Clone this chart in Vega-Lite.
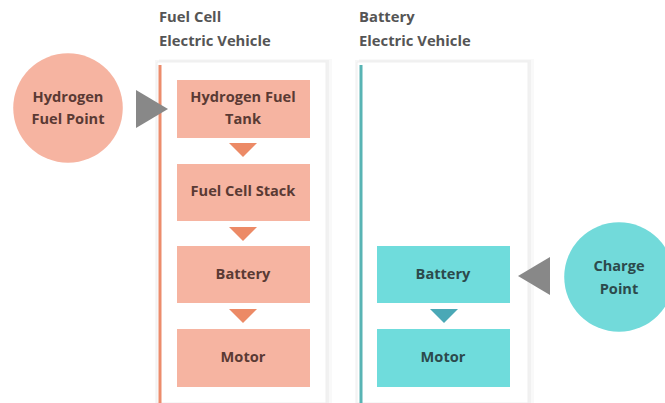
{
  "$schema": "https://vega.github.io/schema/vega-lite/v6.json",
  "width": 665,
  "height": 403,
  "padding": 0,
  "autosize": {"type": "none"},
  "background": "#ffffff",
  "config": {"view": {"stroke": null}, "font": "Open Sans"},
  "datasets": {
    "panels": [
      {"x0": 157, "x1": 326, "y0": 62, "y1": 403},
      {"x0": 357, "x1": 528, "y0": 62, "y1": 403}
    ],
    "lines": [
      {"x": 160, "y0": 65, "y1": 403, "g": "fc"},
      {"x": 361, "y0": 65, "y1": 403, "g": "bev"}
    ],
    "boxes": [
      {"x0": 177, "x1": 310, "y0": 80, "y1": 138, "g": "fc"},
      {"x0": 177, "x1": 310, "y0": 164, "y1": 221, "g": "fc"},
      {"x0": 177, "x1": 310, "y0": 246, "y1": 303, "g": "fc"},
      {"x0": 177, "x1": 310, "y0": 329, "y1": 387, "g": "fc"},
      {"x0": 377, "x1": 510, "y0": 246, "y1": 303, "g": "bev"},
      {"x0": 377, "x1": 510, "y0": 329, "y1": 387, "g": "bev"}
    ],
    "downs": [
      {"x": 243, "y": 150, "g": "fc"},
      {"x": 243, "y": 234, "g": "fc"},
      {"x": 243, "y": 316, "g": "fc"},
      {"x": 444, "y": 316, "g": "bev"}
    ],
    "circles": [
      {"x": 68, "y": 108, "g": "fc"},
      {"x": 619, "y": 277, "g": "bev"}
    ],
    "texts": [
      {"x": 159, "y": 18, "t": "Fuel Cell", "g": "title", "a": "left"},
      {"x": 159, "y": 42, "t": "Electric Vehicle", "g": "title", "a": "left"},
      {"x": 359, "y": 18, "t": "Battery", "g": "title", "a": "left"},
      {"x": 359, "y": 42, "t": "Electric Vehicle", "g": "title", "a": "left"},
      {"x": 68, "y": 98, "t": "Hydrogen", "g": "fc", "a": "center"},
      {"x": 68, "y": 120, "t": "Fuel Point", "g": "fc", "a": "center"},
      {"x": 243, "y": 98, "t": "Hydrogen Fuel", "g": "fc", "a": "center"},
      {"x": 243, "y": 120, "t": "Tank", "g": "fc", "a": "center"},
      {"x": 243, "y": 192, "t": "Fuel Cell Stack", "g": "fc", "a": "center"},
      {"x": 243, "y": 275, "t": "Battery", "g": "fc", "a": "center"},
      {"x": 243, "y": 358, "t": "Motor", "g": "fc", "a": "center"},
      {"x": 443, "y": 275, "t": "Battery", "g": "bev", "a": "center"},
      {"x": 443, "y": 358, "t": "Motor", "g": "bev", "a": "center"},
      {"x": 619, "y": 267, "t": "Charge", "g": "bev", "a": "center"},
      {"x": 619, "y": 290, "t": "Point", "g": "bev", "a": "center"}
    ]
  },
  "resolve": {"scale": {"fill": "independent", "color": "independent", "stroke": "independent"}},
  "layer": [
    {
      "data": {"name": "panels"},
      "mark": {"type": "rect", "fill": "#000000", "opacity": 0.025, "xOffset": 2, "x2Offset": 6, "yOffset": -3, "y2Offset": 3},
      "encoding": {
        "x": {"field": "x0", "type": "quantitative", "scale": {"domain": [0, 665], "nice": false, "zero": false}, "axis": null},
        "x2": {"field": "x1"},
        "y": {"field": "y0", "type": "quantitative", "scale": {"domain": [403, 0], "nice": false, "zero": false}, "axis": null},
        "y2": {"field": "y1"}
      }
    },
    {
      "data": {"name": "panels"},
      "mark": {"type": "rect", "fill": "#000000", "opacity": 0.03, "xOffset": -2, "x2Offset": 3, "yOffset": -2, "y2Offset": 2},
      "encoding": {
        "x": {"field": "x0", "type": "quantitative"},
        "x2": {"field": "x1"},
        "y": {"field": "y0", "type": "quantitative"},
        "y2": {"field": "y1"}
      }
    },
    {
      "data": {"name": "panels"},
      "mark": {"type": "rect", "fill": "#ffffff", "stroke": "#efefef", "strokeWidth": 1},
      "encoding": {
        "x": {"field": "x0", "type": "quantitative"},
        "x2": {"field": "x1"},
        "y": {"field": "y0", "type": "quantitative"},
        "y2": {"field": "y1"}
      }
    },
    {
      "data": {"name": "lines"},
      "mark": {"type": "rule", "strokeWidth": 3},
      "encoding": {
        "x": {"field": "x", "type": "quantitative"},
        "y": {"field": "y0", "type": "quantitative"},
        "y2": {"field": "y1"},
        "color": {"field": "g", "type": "nominal", "scale": {"domain": ["fc", "bev"], "range": ["#ec8c6c", "#58b4b4"]}, "legend": null}
      }
    },
    {
      "data": {"name": "boxes"},
      "mark": {"type": "rect"},
      "encoding": {
        "x": {"field": "x0", "type": "quantitative"},
        "x2": {"field": "x1"},
        "y": {"field": "y0", "type": "quantitative"},
        "y2": {"field": "y1"},
        "fill": {"field": "g", "type": "nominal", "scale": {"domain": ["fc", "bev"], "range": ["#f6b4a1", "#6fdcdc"]}, "legend": null}
      }
    },
    {
      "data": {"name": "downs"},
      "mark": {"type": "point", "filled": true, "opacity": 1, "shape": "M-1,-0.5L1,-0.5L0,0.5Z", "size": 784},
      "encoding": {
        "x": {"field": "x", "type": "quantitative"},
        "y": {"field": "y", "type": "quantitative"},
        "fill": {"field": "g", "type": "nominal", "scale": {"domain": ["fc", "bev"], "range": ["#ec8a66", "#4aa8b6"]}, "legend": null}
      }
    },
    {
      "data": {"name": "circles"},
      "mark": {"type": "point", "filled": true, "opacity": 1, "shape": "circle", "size": 12000},
      "encoding": {
        "x": {"field": "x", "type": "quantitative"},
        "y": {"field": "y", "type": "quantitative"},
        "fill": {"field": "g", "type": "nominal", "scale": {"domain": ["fc", "bev"], "range": ["#f6b4a1", "#72dada"]}, "legend": null}
      }
    },
    {
      "data": {"values": [{"x": 152, "y": 109}]},
      "mark": {"type": "point", "filled": true, "opacity": 1, "fill": "#888888", "shape": "M-1,-1.19L1,0L-1,1.19Z", "size": 1024},
      "encoding": {
        "x": {"field": "x", "type": "quantitative"},
        "y": {"field": "y", "type": "quantitative"}
      }
    },
    {
      "data": {"values": [{"x": 534, "y": 276}]},
      "mark": {"type": "point", "filled": true, "opacity": 1, "fill": "#888888", "shape": "M1,-1.19L-1,0L1,1.19Z", "size": 1024},
      "encoding": {
        "x": {"field": "x", "type": "quantitative"},
        "y": {"field": "y", "type": "quantitative"}
      }
    },
    {
      "data": {"name": "texts"},
      "transform": [{"filter": "datum.a == 'left'"}],
      "mark": {"type": "text", "align": "left", "baseline": "middle", "fontSize": 14.8, "fontWeight": "bold", "font": "Open Sans", "fill": "#555555"},
      "encoding": {
        "x": {"field": "x", "type": "quantitative"},
        "y": {"field": "y", "type": "quantitative"},
        "text": {"field": "t"}
      }
    },
    {
      "data": {"name": "texts"},
      "transform": [{"filter": "datum.a == 'center'"}],
      "mark": {"type": "text", "align": "center", "baseline": "middle", "fontSize": 14.6, "fontWeight": "bold", "font": "Open Sans"},
      "encoding": {
        "x": {"field": "x", "type": "quantitative"},
        "y": {"field": "y", "type": "quantitative"},
        "text": {"field": "t"},
        "fill": {"field": "g", "type": "nominal", "scale": {"domain": ["fc", "bev"], "range": ["#5a3a34", "#2c4a4c"]}, "legend": null}
      }
    }
  ]
}
